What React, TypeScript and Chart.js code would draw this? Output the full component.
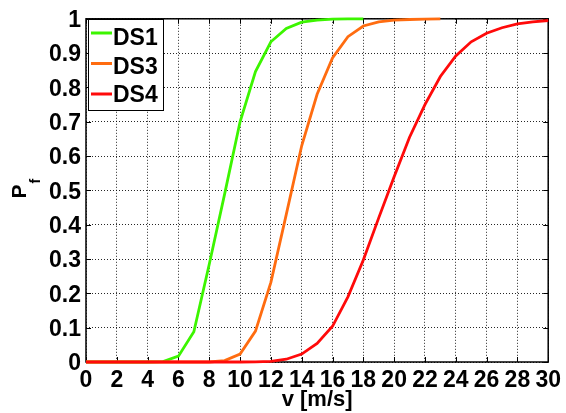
import React, { useEffect, useRef } from 'react';
import { Chart, registerables } from 'chart.js';

Chart.register(...registerables);

// wind speed v [m/s]
const windSpeed = [0, 1, 2, 3, 4, 5, 6, 7, 8, 9, 10, 11, 12, 13, 14, 15, 16, 17, 18, 19, 20, 21, 22, 23, 24, 25, 26, 27, 28, 29, 30];
const ds1Values = [0, 0, 0, 0, 0, 0.001, 0.017, 0.088, 0.285, 0.49, 0.7, 0.846, 0.933, 0.972, 0.99, 0.996, 0.999, 1, 1];
const ds3Values = [0, 0, 0, 0, 0, 0, 0, 0, 0, 0.004, 0.023, 0.09, 0.232, 0.43, 0.63, 0.78, 0.886, 0.948, 0.979, 0.991, 0.996, 0.998, 0.999, 1];
const ds4Values = [0, 0, 0, 0, 0, 0, 0, 0, 0, 0, 0, 0.0005, 0.002, 0.008, 0.023, 0.054, 0.104, 0.19, 0.297, 0.42, 0.54, 0.655, 0.75, 0.832, 0.892, 0.933, 0.958, 0.974, 0.985, 0.991, 0.995];
const seriesNames = ['DS1', 'DS3', 'DS4'];
const seriesColors = ['#3cf500', '#ff6c10', '#ff0a0a'];
const xTitle = 'v [m/s]';
const yTitleMain = 'P';
const yTitleSub = 'f';

const FONT = '"Liberation Sans", Arial, Helvetica, sans-serif';

const toPoints = (vals: number[]) => vals.map((y, i) => ({ x: windSpeed[i], y }));

const decorPlugin = {
  id: 'decor',
  beforeDatasetsDraw(chart: any) {
    const { ctx, chartArea: a, scales } = chart;
    ctx.save();
    ctx.strokeStyle = '#000';
    ctx.lineWidth = 1;
    const tl = 5;
    ctx.beginPath();
    scales.x.ticks.forEach((t: any) => {
      const px = Math.round(scales.x.getPixelForValue(t.value)) + 0.5;
      ctx.moveTo(px, a.bottom); ctx.lineTo(px, a.bottom - tl);
      ctx.moveTo(px, a.top); ctx.lineTo(px, a.top + tl);
    });
    scales.y.ticks.forEach((t: any) => {
      const py = Math.round(scales.y.getPixelForValue(t.value)) + 0.5;
      ctx.moveTo(a.left, py); ctx.lineTo(a.left + tl, py);
      ctx.moveTo(a.right, py); ctx.lineTo(a.right - tl, py);
    });
    ctx.stroke();
    ctx.lineWidth = 1.5;
    ctx.strokeRect(a.left, a.top, a.right - a.left, a.bottom - a.top);
    ctx.restore();
  },
  afterDraw(chart: any) {
    const { ctx, chartArea: a } = chart;
    ctx.save();
    const bx = 88.5, by = 19.5, bw = 75, bh = 91;
    ctx.fillStyle = '#fff';
    ctx.fillRect(bx, by, bw, bh);
    ctx.strokeStyle = '#000';
    ctx.lineWidth = 1;
    ctx.strokeRect(bx, by, bw, bh);
    const lineYs = [33, 63.5, 94];
    const baseYs = [45, 73.5, 102];
    chart.data.datasets.forEach((ds: any, i: number) => {
      ctx.strokeStyle = ds.borderColor;
      ctx.lineWidth = 3;
      ctx.beginPath();
      ctx.moveTo(91, lineYs[i]);
      ctx.lineTo(112, lineYs[i]);
      ctx.stroke();
      ctx.fillStyle = '#000';
      ctx.font = `bold 23px ${FONT}`;
      ctx.textAlign = 'left';
      ctx.textBaseline = 'alphabetic';
      ctx.fillText(ds.label, 113, baseYs[i]);
    });
    ctx.fillStyle = '#000';
    ctx.font = `bold 22px ${FONT}`;
    ctx.textAlign = 'center';
    ctx.textBaseline = 'alphabetic';
    ctx.fillText(xTitle, (a.left + a.right) / 2, 406);
    ctx.translate(26, 198.5);
    ctx.rotate(-Math.PI / 2);
    ctx.textAlign = 'left';
    ctx.font = `bold 21px ${FONT}`;
    ctx.fillText(yTitleMain, 0, 0);
    const w = ctx.measureText(yTitleMain).width;
    ctx.font = `bold 14px ${FONT}`;
    ctx.fillText(yTitleSub, w + 1, 14);
    ctx.restore();
  },
};

export default function App() {
  const ref = useRef<HTMLCanvasElement | null>(null);
  useEffect(() => {
    document.body.style.margin = '0';
    if (!ref.current) return;
    const values = [ds1Values, ds3Values, ds4Values];
    const chart = new Chart(ref.current, {
      type: 'line',
      data: {
        datasets: values.map((vals, i) => ({
          label: seriesNames[i],
          data: toPoints(vals),
          borderColor: seriesColors[i],
          backgroundColor: seriesColors[i],
          borderWidth: 2.8,
          pointRadius: 0,
          tension: 0,
          clip: false as any,
          order: 3 - i,
        })),
      },
      options: {
        animation: false,
        responsive: false,
        events: [],
        layout: { padding: { left: 0, right: 16, top: 17, bottom: 0 } },
        plugins: { legend: { display: false }, tooltip: { enabled: false } },
        scales: {
          x: {
            type: 'linear',
            min: 0,
            max: 30,
            afterFit: (s: any) => { s.height = 51; },
            ticks: {
              stepSize: 2,
              color: '#000',
              font: { family: FONT, size: 23, weight: 'bold' },
              padding: 5,
              maxRotation: 0,
              autoSkip: false,
            },
            grid: { color: 'rgba(0,0,0,0.85)', lineWidth: 1, drawTicks: false },
            border: { display: false, dash: [1, 2] },
          },
          y: {
            type: 'linear',
            min: 0,
            max: 1,
            afterFit: (s: any) => { s.width = 86; },
            ticks: {
              stepSize: 0.1,
              color: '#000',
              font: { family: FONT, size: 23, weight: 'bold' },
              padding: 5,
              labelOffset: 2,
              callback: (v: any) => String(Number(Number(v).toFixed(1))),
            },
            grid: { color: 'rgba(0,0,0,0.85)', lineWidth: 1, drawTicks: false },
            border: { display: false, dash: [1, 2] },
          },
        },
      },
      plugins: [decorPlugin],
    });
    return () => chart.destroy();
  }, []);
  return (
    <div style={{ width: 566, height: 413, background: '#fff' }}>
      <canvas ref={ref} width={566} height={413} />
    </div>
  );
}
